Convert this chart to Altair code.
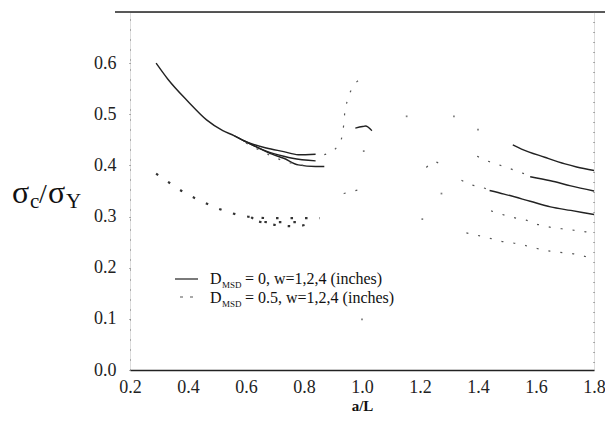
import altair as alt
import pandas as pd

# ---------------- data ----------------
x_ticks = [0.2, 0.4, 0.6, 0.8, 1.0, 1.2, 1.4, 1.6, 1.8]
y_ticks = [0.0, 0.1, 0.2, 0.3, 0.4, 0.5, 0.6]

# D_MSD = 0 (solid), w = 1, 2, 4 -- left and right branches
s1_left_x = [0.29, 0.33, 0.40, 0.464, 0.52, 0.56, 0.59, 0.67, 0.73, 0.78, 0.84]
s1_left_y = [0.600, 0.569, 0.525, 0.489, 0.468, 0.458, 0.449, 0.434, 0.427, 0.421, 0.422]
s2_left_x = [0.56, 0.59, 0.67, 0.73, 0.76, 0.84]
s2_left_y = [0.458, 0.449, 0.428, 0.418, 0.414, 0.409]
s3_left_x = [0.59, 0.64, 0.69, 0.73, 0.78, 0.84, 0.87]
s3_left_y = [0.449, 0.435, 0.422, 0.414, 0.401, 0.398, 0.398]
s_bump_x = [0.977, 1.002, 1.012, 1.034]
s_bump_y = [0.473, 0.476, 0.477, 0.468]
s1_right_x = [1.52, 1.55, 1.63, 1.70, 1.74, 1.80]
s1_right_y = [0.440, 0.432, 0.416, 0.403, 0.397, 0.390]
s2_right_x = [1.58, 1.65, 1.72, 1.80]
s2_right_y = [0.378, 0.370, 0.360, 0.350]
s3_right_x = [1.44, 1.49, 1.58, 1.65, 1.72, 1.80]
s3_right_y = [0.351, 0.344, 0.330, 0.319, 0.312, 0.304]

# D_MSD = 0.5 (dashed), w = 1, 2, 4
d1_left_x = [0.29, 0.344, 0.39, 0.447, 0.498, 0.555, 0.618, 0.68, 0.743, 0.80, 0.855]
d1_left_y = [0.384, 0.363, 0.346, 0.330, 0.317, 0.306, 0.299, 0.297, 0.297, 0.297, 0.297]
d2_left_x = [0.618, 0.645, 0.69, 0.738, 0.79]
d2_left_y = [0.299, 0.290, 0.289, 0.289, 0.289]
d3_left_x = [0.645, 0.709, 0.772, 0.823]
d3_left_y = [0.290, 0.283, 0.281, 0.287]
d_upper_x = [0.60, 0.69, 0.74, 0.80]
d_upper_y = [0.444, 0.418, 0.407, 0.400]
d_spike_x = [0.87, 0.92, 0.935, 0.94, 0.95, 0.965, 1.0]
d_spike_y = [0.421, 0.440, 0.470, 0.500, 0.528, 0.550, 0.570]
d_mid_x = [0.937, 0.964, 0.995]
d_mid_y = [0.345, 0.349, 0.353]
d_hump_x = [1.222, 1.25, 1.282]
d_hump_y = [0.396, 0.407, 0.396]
d1_right_x = [1.397, 1.423, 1.50, 1.533, 1.58]
d1_right_y = [0.418, 0.411, 0.396, 0.389, 0.380]
d2_right_x = [1.343, 1.377, 1.411, 1.44]
d2_right_y = [0.371, 0.362, 0.358, 0.351]
d3_right_x = [1.445, 1.531, 1.566, 1.594, 1.622, 1.651, 1.708, 1.80]
d3_right_y = [0.311, 0.297, 0.293, 0.286, 0.283, 0.279, 0.275, 0.268]
d4_right_x = [1.36, 1.445, 1.478, 1.535, 1.566, 1.594, 1.622, 1.652, 1.742, 1.77, 1.80]
d4_right_y = [0.268, 0.257, 0.252, 0.247, 0.243, 0.239, 0.235, 0.232, 0.226, 0.222, 0.216]

# isolated dashes left by the dashed curves
pts_x = [1.006, 1.154, 1.317, 1.40, 1.274, 1.208, 1.0]
pts_y = [0.428, 0.496, 0.496, 0.470, 0.345, 0.295, 0.099]

legend_rows = ["= 0, w=1,2,4 (inches)", "= 0.5, w=1,2,4 (inches)"]

# ---------------- tables ----------------
def seg_table(segs):
    rows = []
    for name, xs, ys in segs:
        for a, b in zip(xs, ys):
            rows.append({"seg": name, "x": a, "y": b})
    return pd.DataFrame(rows)

solid = seg_table([
    ("s1l", s1_left_x, s1_left_y), ("s2l", s2_left_x, s2_left_y),
    ("s3l", s3_left_x, s3_left_y), ("sb", s_bump_x, s_bump_y),
    ("s1r", s1_right_x, s1_right_y), ("s2r", s2_right_x, s2_right_y),
    ("s3r", s3_right_x, s3_right_y),
])
dashed_bold = seg_table([
    ("d1l", d1_left_x, d1_left_y), ("d2l", d2_left_x, d2_left_y),
    ("d3l", d3_left_x, d3_left_y),
])
dashed = seg_table([
    ("du", d_upper_x, d_upper_y), ("ds", d_spike_x, d_spike_y),
    ("dm", d_mid_x, d_mid_y), ("dh", d_hump_x, d_hump_y),
    ("d1r", d1_right_x, d1_right_y), ("d2r", d2_right_x, d2_right_y),
    ("d3r", d3_right_x, d3_right_y), ("d4r", d4_right_x, d4_right_y),
])
pts = pd.DataFrame({"x": pts_x, "y": pts_y})

W, H = 464, 358
SERIF = "Liberation Serif"

xs = alt.Scale(domain=[0.2, 1.8], nice=False)
ys = alt.Scale(domain=[0.0, 0.7], nice=False)

xax = alt.Axis(values=x_ticks, format=".1f", title="a/L", grid=False, ticks=False,
               labelFlush=False, labelOverlap=False,
               labelFont=SERIF, labelFontSize=18, labelColor="#222", labelPadding=8,
               titleFont=SERIF, titleFontSize=15, titleFontWeight="bold", titleColor="#111",
               titlePadding=2, domainColor="#222", domainWidth=1.3)
yax = alt.Axis(values=y_ticks, format=".1f", title=None, grid=False, ticks=True,
               tickSize=2, tickColor="#666", tickDash=[1, 1], labelOverlap=False,
               labelFont=SERIF, labelFontSize=18, labelColor="#222", labelPadding=12,
               domainColor="#777", domainDash=[1, 9], domainWidth=1)

base_solid = alt.Chart(solid).mark_line(color="#222", strokeWidth=1.4, interpolate="monotone").encode(
    x=alt.X("x:Q", scale=xs, axis=xax),
    y=alt.Y("y:Q", scale=ys, axis=yax),
    detail="seg:N",
)
bold_dash = alt.Chart(dashed_bold).mark_line(color="#333", strokeWidth=2.2, strokeDash=[2.5, 12],
                                             interpolate="monotone").encode(
    x=alt.X("x:Q", scale=xs), y=alt.Y("y:Q", scale=ys), detail="seg:N",
)
thin_dash = alt.Chart(dashed).mark_line(color="#555", strokeWidth=1.2, strokeDash=[2, 10],
                                        interpolate="monotone").encode(
    x=alt.X("x:Q", scale=xs), y=alt.Y("y:Q", scale=ys), detail="seg:N",
)
dots = alt.Chart(pts).mark_square(color="#444", size=3).encode(
    x=alt.X("x:Q", scale=xs), y=alt.Y("y:Q", scale=ys),
)

one = pd.DataFrame({"t": [""]})
top_rule = alt.Chart(one).mark_rule(color="#222", strokeWidth=1.6).encode(
    x=alt.value(-15), x2=alt.value(W + 11), y=alt.value(0))
right_rule = alt.Chart(one).mark_rule(color="#666", strokeWidth=1, strokeDash=[1, 9]).encode(
    x=alt.value(W), y=alt.value(0), y2=alt.value(H))

def txt(s, x, y, size, baseline="alphabetic", weight="normal"):
    return alt.Chart(pd.DataFrame({"t": [s]})).mark_text(
        font=SERIF, fontSize=size, align="left", baseline=baseline,
        color="#111", fontWeight=weight).encode(text="t:N", x=alt.value(x), y=alt.value(y))

# y axis title sigma_c / sigma_Y
ytitle = [
    txt("σ", -118, 191, 32),
    txt("c", -100, 196, 21),
    txt("/", -91, 191, 28),
    txt("σ", -82, 191, 32),
    txt("Y", -64, 196, 21),
]

# legend
leg_solid = alt.Chart(one).mark_rule(color="#222", strokeWidth=1.2).encode(
    x=alt.value(45), x2=alt.value(68), y=alt.value(267))
leg_dash = alt.Chart(one).mark_rule(color="#555", strokeWidth=1.2, strokeDash=[3, 7]).encode(
    x=alt.value(50), x2=alt.value(64), y=alt.value(285))
legend = [
    leg_solid, leg_dash,
    txt("D", 80, 272, 16), txt("MSD", 92, 276, 9), txt(legend_rows[0], 115, 272, 16),
    txt("D", 80, 291, 16), txt("MSD", 92, 295, 9), txt(legend_rows[1], 115, 291, 16),
]

chart = alt.layer(
    base_solid, bold_dash, thin_dash, dots, top_rule, right_rule, *ytitle, *legend
).properties(
    width=W, height=H,
    padding={"left": 122, "top": 4, "right": 11, "bottom": 48},
    autosize=alt.AutoSizeParams(type="none"),
).configure_view(stroke=None).configure(background="white")

chart.save("out.html", embed_options={"renderer": "svg", "actions": False})
